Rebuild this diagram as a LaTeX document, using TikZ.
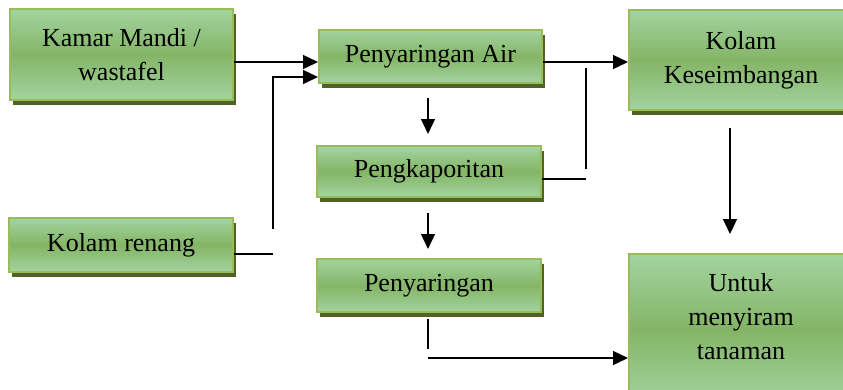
\documentclass[tikz,border=0pt]{standalone}
\usepackage{fontspec}
\setmainfont{Liberation Serif}
\usetikzlibrary{arrows.meta,shadows,calc}
\definecolor{boxlight}{HTML}{A2D4A0}
\definecolor{boxmid}{HTML}{84B566}
\definecolor{boxborder}{HTML}{9BBB59}
\definecolor{boxshadow}{HTML}{4F6228}
\tikzset{
  flowbox/.style={draw=boxborder, line width=2pt, top color=boxlight, bottom color=boxlight, middle color=boxmid,
    drop shadow={shadow xshift=3pt, shadow yshift=-5pt, fill=boxshadow, opacity=1},
    align=center, inner sep=0pt, font=\fontsize{26}{34}\selectfont},
  boxtext/.style={align=center, inner sep=0pt, font=\fontsize{26}{34}\selectfont},
  conn/.style={line width=1.3pt, black},
  arr/.style={conn, -{Triangle[length=15pt,width=14pt]}}
}
\begin{document}
\begin{tikzpicture}[x=1pt,y=-1pt]
\useasboundingbox (0,0) rectangle (843,389);
\begin{scope}
\clip (0,0) rectangle (843,389);
\node[flowbox, minimum width=223, minimum height=91] (kamar) at (121.5,54.5) {Kamar Mandi /\\wastafel};
\node[flowbox, minimum width=223, minimum height=53] (pair) at (430.5,56.5) {Penyaringan Air};
\node[flowbox, minimum width=224, minimum height=51] (kapor) at (429,171.5) {Pengkaporitan};
\node[flowbox, minimum width=224, minimum height=53] (saring) at (429,285.5) {Penyaringan};
\node[flowbox, minimum width=224, minimum height=54] (renang) at (121,245) {Kolam renang};
\node[flowbox, minimum width=224, minimum height=100] (imbang) at (741,60) {Kolam\\Keseimbangan};
\node[flowbox, minimum width=224, minimum height=150] (untuk) at (741,329) {};
\end{scope}
\node[boxtext] (untuktext) at (741,317) {Untuk\\menyiram\\tanaman};
% connectors
\coordinate (j1) at (273,229);
\coordinate (j2) at (586,68);
\coordinate (j3) at (586,169);
\coordinate (j4) at (428,319);
\coordinate (j5) at (428,349);
\coordinate (j6) at (428,358);
\draw[arr] ([yshift=-7.5pt]kamar.east) -- ([yshift=-5.5pt]pair.west);
\draw[arr] (j1) -- (j1 |- 0,77) -- ([yshift=-20.5pt]pair.west);
\draw[conn] ([yshift=-9pt]renang.east) -- (j1 |- 0,254);
\draw[arr] ([yshift=-5.5pt]pair.east) -- ([yshift=-2pt]imbang.west);
\draw[conn] (j2) -- (j3);
\draw[conn] ([yshift=-7.5pt]kapor.east) -- (j3 |- 0,179);
\draw[arr] ([xshift=-2.5pt,yshift=-14pt]pair.south) -- ([xshift=-1pt,yshift=11pt]kapor.north);
\draw[arr] ([xshift=-1pt,yshift=-15pt]kapor.south) -- ([xshift=-1pt,yshift=9pt]saring.north);
\draw[conn] (j4) -- (j5);
\draw[arr] (j6) -- (untuk.west |- j6);
\draw[arr] ([xshift=-11pt,yshift=-17pt]imbang.south) -- ([xshift=-11pt,yshift=19pt]untuk.north);
\end{tikzpicture}
\end{document}
